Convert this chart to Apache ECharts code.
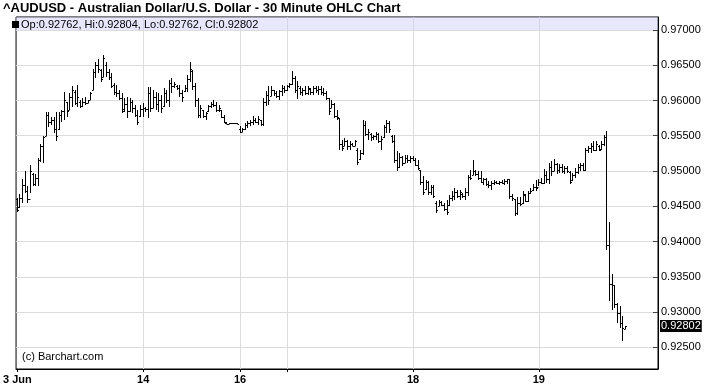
<!DOCTYPE html>
<html><head><meta charset="utf-8">
<script src="https://cdn.jsdelivr.net/npm/echarts@6/dist/echarts.min.js"></script>
<style>html,body{margin:0;padding:0;background:#fff}#c{width:710px;height:391px}</style>
</head><body><div id="c"></div>
<script>
const chartTitle = '^AUDUSD - Australian Dollar/U.S. Dollar - 30 Minute OHLC Chart';
const credit = '(c) Barchart.com';

// 30-minute bars, index 0 = first bar of the chart
const opens = [
.94600,.94490,.94620,.94800,.94720,.94600,.94960,.94820,.94900,.95150,
.95350,.95500,.95800,.95700,.95720,.95600,.95600,.95800,.95850,.95980,
.95870,.96050,.96120,.95960,.95980,.95920,.95980,.95970,.96010,.96150,
.96400,.96500,.96430,.96340,.96500,.96400,.96330,.96220,.96120,.96100,
.96030,.95880,.95950,.95850,.95980,.95900,.95800,.95780,
.95880,.95900,
.95880,.96100,.95900,.96050,.95950,.96000,.95920,.96100,.96000,.96250,
.96200,.96210,.96180,.96100,.96130,.96180,.96300,.96420,.96200,.96000,
.95800,.95860,.95780,.95850,.95920,.95950,.95930,.95870,.95860,.95760,
.95680,.95672,.95675,.95675,.95678,
.95600,.95560,.95600,.95650,.95680,
.95700,.95720,.95700,.95720,.95660,.95980,.96080,.96060,.96150,.96100,
.96070,.96130,.96180,
.96150,.96200,.96230,.96320,.96150,.96180,.96120,
.96150,.96100,.96170,.96120,.96180,.96150,.96170,.96120,.96100,.96030,
.95900,.95950,.95780,.95750,.95380,.95350,.95420,.95360,.95380,.95360,
.95300,.95170,.95250,.95650,.95520,.95520,.95480,.95490,.95520,.95430,
.95480,.95620,.95680,.95500,.95420,.95150,.95050,.95200,.95120,.95180,
.95150,
.95180,.95160,.95080,.95010,.94850,.94750,.94850,.94700,.94780,
.94550,.94500,.94560,.94520,.94460,.94520,.94620,.94650,.94700,.94650,
.94680,.94640,.94700,.94920,.94950,.95000,.94960,.94900,.94850,.94880,
.94820,.94800,.94830,.94840,.94830,.94850,.94830,.94860,.94880,.94650,
.94600,.94400,.94550,.94540,.94660,.94580,.94690,.94730,.94780,
.94780,
.94850,.94830,.94950,.94880,.95050,.95000,.95100,.95020,.95060,.95000,
.95040,.94990,.94870,.94950,.94980,.95050,.95080,.95020,.95300,.95320,
.95350,.95300,.95360,.95310,.95380,.95480,.93950,.93400,.93380,.93120,
.92990,.92850,.92762
];
const highs = [
.94622,.94669,.94880,.94998,.94786,.95092,.94974,.94951,.95185,.95387,
.95491,.95843,.95843,.95772,.95772,.95843,.95843,.95866,.96124,.95984,
.96101,.96209,.96148,.96218,.96007,.96031,.96045,.96007,.96124,.96453,
.96547,.96594,.96453,.96641,.96547,.96453,.96383,.96242,.96218,.96148,
.96101,.96031,.96054,.96031,.96007,.95937,.95866,.95937,
.95960,.95913,
.96195,.96195,.96148,.96124,.96101,.96077,.96171,.96148,.96289,.96312,
.96265,.96218,.96218,.96148,.96218,.96359,.96547,.96430,.96242,.96031,
.95937,.95866,.95843,.95937,.95984,.96007,.95984,.95937,.95866,.95796,
.95688,.95678,.95678,.95680,.95680,
.95633,.95609,.95680,.95704,.95727,
.95775,.95751,.95775,.95727,.96036,.96130,.96201,.96201,.96154,.96130,
.96154,.96225,.96201,
.96225,.96249,.96415,.96344,.96273,.96201,.96178,
.96201,.96201,.96178,.96211,.96211,.96201,.96201,.96178,.96130,.96036,
.96012,.95964,.95870,.95751,.95443,.95467,.95443,.95420,.95396,.95443,
.95325,.95301,.95727,.95704,.95600,.95538,.95514,.95547,.95538,.95491,
.95656,.95726,.95703,.95514,.95514,.95278,.95255,.95208,.95231,.95231,
.95208,
.95208,.95184,.95160,.95019,.94925,.94877,.94854,.94807,.94807,
.94571,.94594,.94571,.94547,.94594,.94665,.94712,.94759,.94736,.94736,
.94689,.94759,.94948,.95019,.95151,.95019,.94995,.94995,.94901,.94901,
.94854,.94854,.94869,.94860,.94860,.94869,.94883,.94893,.94893,.94673,
.94603,.94626,.94626,.94720,.94673,.94720,.94766,.94813,.94869,
.94883,
.94907,.95033,.95000,.95117,.95140,.95173,.95117,.95093,.95093,.95070,
.95070,.95000,.94977,.95047,.95093,.95117,.95117,.95327,.95350,.95397,
.95420,.95420,.95374,.95420,.95514,.95561,.94271,.93540,.93388,.93131,
.93084,.92944,.92804
];
const lows = [
.94420,.94481,.94552,.94692,.94552,.94692,.94786,.94786,.94786,.95124,
.95115,.95491,.95631,.95655,.95538,.95420,.95585,.95702,.95725,.95772,
.95866,.95913,.95937,.95913,.95890,.95913,.95937,.95960,.96007,.96148,
.96326,.96383,.96265,.96336,.96336,.96289,.96171,.96077,.96054,.96007,
.95819,.95843,.95749,.95843,.95819,.95772,.95655,.95772,
.95772,.95843,
.95749,.95843,.95890,.95866,.95843,.95819,.95913,.95960,.95913,.96101,
.96171,.96148,.96054,.95984,.96124,.96124,.96265,.96148,.95913,.95749,
.95749,.95749,.95725,.95843,.95890,.95913,.95843,.95843,.95749,.95678,
.95664,.95670,.95672,.95672,.95660,
.95538,.95547,.95576,.95609,.95633,
.95656,.95680,.95656,.95633,.95633,.95917,.95941,.96059,.96059,.96036,
.96012,.96059,.96107,
.96130,.96178,.96225,.96107,.96021,.96083,.96059,
.96083,.96083,.96083,.96083,.96107,.96083,.96083,.96059,.96012,.95799,
.95893,.95751,.95727,.95301,.95277,.95348,.95301,.95301,.95348,.95348,
.95088,.95159,.95230,.95490,.95443,.95420,.95443,.95443,.95396,.95302,
.95467,.95538,.95538,.95396,.95113,.94995,.95042,.95066,.95113,.95113,
.95113,
.95137,.95066,.95019,.94807,.94665,.94736,.94665,.94665,.94618,
.94406,.94500,.94500,.94429,.94382,.94500,.94571,.94594,.94618,.94594,
.94618,.94594,.94642,.94877,.94948,.94925,.94877,.94830,.94807,.94783,
.94759,.94736,.94799,.94813,.94799,.94813,.94799,.94813,.94603,.94580,
.94360,.94369,.94510,.94533,.94556,.94556,.94673,.94720,.94720,
.94790,
.94813,.94813,.94836,.94813,.94930,.95000,.94953,.94977,.94977,.94953,
.94977,.94813,.94860,.94907,.94953,.95000,.95000,.95000,.95257,.95257,
.95280,.95280,.95280,.95304,.95350,.93880,.93152,.93034,.93061,.92850,
.92780,.92590,.92762
];
const closes = [
.94450,.94620,.94800,.94720,.94600,.95000,.94820,.94900,.95150,.95350,
.95480,.95800,.95700,.95720,.95600,.95500,.95800,.95850,.96000,.95850,
.96050,.96150,.95960,.96050,.95920,.95980,.95970,.96000,.96100,.96400,
.96500,.96450,.96300,.96600,.96400,.96330,.96200,.96120,.96100,.96030,
.95850,.95950,.95850,.95980,.95900,.95800,.95700,.95880,
.95900,.95880,
.96100,.95900,.96050,.95950,.96000,.95900,.96100,.96000,.96250,.96200,
.96230,.96180,.96100,.96050,.96180,.96300,.96450,.96200,.96000,.95800,
.95900,.95780,.95820,.95920,.95950,.95930,.95870,.95900,.95760,.95690,
.95670,.95675,.95675,.95678,.95665,
.95560,.95600,.95650,.95680,.95700,
.95720,.95700,.95740,.95660,.95980,.96080,.96000,.96150,.96100,.96070,
.96130,.96180,.96150,
.96200,.96230,.96320,.96150,.96200,.96120,.96150,
.96100,.96180,.96120,.96180,.96150,.96170,.96120,.96100,.96030,.95850,
.95950,.95780,.95760,.95380,.95320,.95420,.95360,.95380,.95360,.95420,
.95130,.95250,.95650,.95520,.95550,.95480,.95490,.95520,.95430,.95460,
.95620,.95680,.95600,.95420,.95150,.95050,.95200,.95120,.95180,.95150,
.95180,
.95160,.95080,.95040,.94850,.94700,.94850,.94700,.94780,.94650,
.94450,.94560,.94520,.94460,.94420,.94620,.94650,.94700,.94650,.94700,
.94640,.94700,.94920,.94900,.95000,.94960,.94900,.94850,.94880,.94820,
.94800,.94830,.94840,.94830,.94850,.94830,.94860,.94880,.94650,.94620,
.94400,.94550,.94530,.94680,.94580,.94690,.94720,.94780,.94760,
.94850,
.94830,.94950,.94880,.95050,.95000,.95100,.95020,.95060,.95000,.95040,
.95000,.94850,.94950,.94980,.95050,.95080,.95020,.95300,.95320,.95350,
.95300,.95380,.95300,.95380,.95480,.93950,.93400,.93380,.93120,.92990,
.92850,.92770,.92802
];

// x axis: bar slots and day boundaries
const slotCount = 245;
const dayStartIndex = [0, 48, 85, 103, 151, 199];
const dayLabels = ['3 Jun', '14', '16', '', '18', '19'];
// y axis
const yTicks = [0.925, 0.930, 0.935, 0.940, 0.945, 0.950, 0.955, 0.960, 0.965, 0.970];
const yMin = 0.92192, yMax = 0.97184;
const bandFrom = 0.970;

const slots = [];
for (let i = 0; i < slotCount; i++) slots.push(String(i));
const bars = closes.map((c, i) => [i, opens[i], highs[i], lows[i], c]);
const last = bars.length - 1;
const isDay = i => dayStartIndex.indexOf(i) >= 0;
const legendText = 'Op:' + opens[last].toFixed(5) + ', Hi:' + highs[last].toFixed(5) +
  ', Lo:' + lows[last].toFixed(5) + ', Cl:' + closes[last].toFixed(5);

function renderItem(params, api) {
  const i = api.value(0);
  const pO = api.coord([i, api.value(1)]);
  const pH = api.coord([i, api.value(2)]);
  const pL = api.coord([i, api.value(3)]);
  const pC = api.coord([i, api.value(4)]);
  const x = Math.floor(pO[0]) + 0.5;
  const yH = Math.round(pH[1]);
  let yL = Math.round(pL[1]);
  if (yL <= yH) yL = yH + 1;
  const yO = Math.round(pO[1]) + 0.5, yC = Math.round(pC[1]) + 0.5;
  const st = () => ({ stroke: '#000', lineWidth: 1 });
  return { type: 'group', children: [
    { type: 'line', shape: { x1: x, y1: yH, x2: x, y2: yL }, style: st() },
    { type: 'line', shape: { x1: x - 1.5, y1: yO, x2: x, y2: yO }, style: st() },
    { type: 'line', shape: { x1: x, y1: yC, x2: x + 1.5, y2: yC }, style: st() }
  ]};
}

const FONT = '"Liberation Sans", Arial, Helvetica, sans-serif';
const chart = echarts.init(document.getElementById('c'), null, { renderer: 'canvas' });
chart.setOption({
  animation: false,
  backgroundColor: '#fff',
  textStyle: { fontFamily: FONT },
  grid: { left: 16, top: 17, width: 642, height: 352, show: true, borderColor: '#000', borderWidth: 1 },
  xAxis: {
    type: 'category', data: slots, boundaryGap: true,
    axisLine: { show: true, lineStyle: { color: '#000' } },
    axisTick: { show: true, alignWithLabel: true, length: 3, interval: (i) => isDay(i), lineStyle: { color: '#000' } },
    axisLabel: { interval: (i) => isDay(i), formatter: (v, i) => { const k = dayStartIndex.indexOf(Number(v)); return k >= 0 ? dayLabels[k] : ''; },
      fontWeight: 'bold', fontSize: 11, color: '#000', margin: 5, fontFamily: FONT },
    splitLine: { show: true, alignWithLabel: true, interval: (i) => isDay(i) && i > 0, lineStyle: { color: '#dcdcdc' } }
  },
  yAxis: [{
    type: 'value', position: 'right', min: yMin, max: yMax,
    axisLine: { show: true, lineStyle: { color: '#000' } },
    axisTick: { show: true, inside: true, length: 5, customValues: yTicks, lineStyle: { color: '#444' } },
    axisLabel: { customValues: yTicks, formatter: v => v.toFixed(5), fontSize: 11, color: '#000', margin: 3, fontFamily: FONT, hideOverlap: false },
    splitLine: { show: true, lineStyle: { color: '#dcdcdc' } }
  }, {
    type: 'value', position: 'right', min: yMin, max: yMax, offset: 0,
    axisLine: { show: false }, axisTick: { show: false }, splitLine: { show: false },
    axisLabel: { customValues: [closes[last]], formatter: v => v.toFixed(5), fontSize: 11, color: '#fff',
      backgroundColor: '#000', padding: [1, 1, 0, 1], margin: 2, fontFamily: FONT, hideOverlap: false }
  }],
  graphic: [
    { type: 'text', x: 3, y: 8, z: 100, style: { text: chartTitle, font: 'bold 13px ' + FONT, fill: '#000', verticalAlign: 'middle' } },
    { type: 'rect', z: 100, shape: { x: 12, y: 21, width: 7, height: 7 }, style: { fill: '#000' } },
    { type: 'text', x: 21, y: 25, z: 100, style: { text: legendText, font: '11px ' + FONT, fill: '#000', verticalAlign: 'middle' } },
    { type: 'text', x: 22, y: 357, z: 100, style: { text: credit, font: '11px ' + FONT, fill: '#000', verticalAlign: 'middle' } }
  ],
  series: [{
    type: 'custom',
    renderItem: renderItem,
    data: bars,
    yAxisIndex: 0,
    encode: { x: 0, y: [1, 2, 3, 4] },
    clip: true,
    z: 5,
    markArea: { silent: true, itemStyle: { color: 'rgba(205,205,248,0.45)' }, data: [[{ yAxis: bandFrom }, { yAxis: yMax }]] }
  }]
});
</script>
</body></html>
